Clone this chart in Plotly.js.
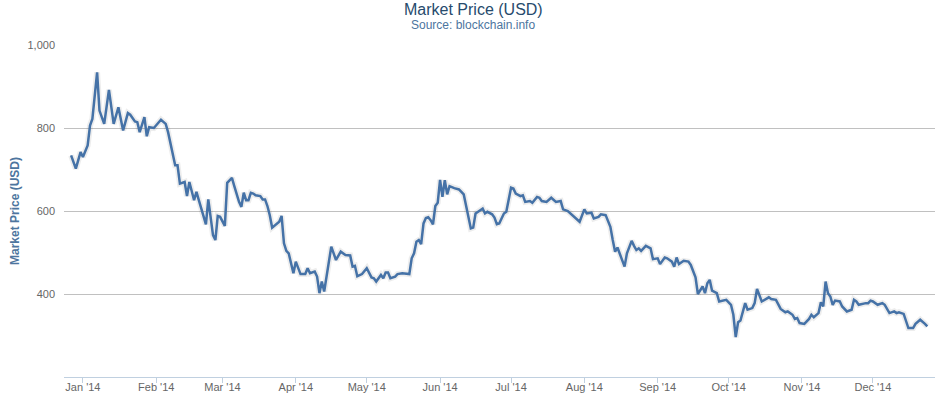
<!DOCTYPE html>
<html>
<head>
<meta charset="utf-8">
<script src="https://cdn.plot.ly/plotly-3.0.1.min.js"></script>
<style>html,body{margin:0;padding:0;background:#fff;}#chart{width:945px;height:398px;}</style>
</head>
<body>
<div id="chart"></div>
<script>
const dates = [
'2013-12-27','2013-12-29','2013-12-31','2014-01-01','2014-01-03','2014-01-04','2014-01-05','2014-01-07','2014-01-08','2014-01-10',
'2014-01-12','2014-01-14','2014-01-16','2014-01-18','2014-01-20','2014-01-21','2014-01-23','2014-01-24','2014-01-25','2014-01-27',
'2014-01-28','2014-01-29','2014-01-31','2014-02-03','2014-02-05','2014-02-06','2014-02-09','2014-02-10','2014-02-11','2014-02-13',
'2014-02-14','2014-02-15','2014-02-17','2014-02-18','2014-02-19','2014-02-21','2014-02-22','2014-02-23','2014-02-25','2014-02-26',
'2014-02-27','2014-02-28','2014-03-02','2014-03-03','2014-03-05','2014-03-06','2014-03-08','2014-03-09','2014-03-10','2014-03-11',
'2014-03-12','2014-03-13','2014-03-14','2014-03-15','2014-03-17','2014-03-18','2014-03-19','2014-03-20','2014-03-21','2014-03-22',
'2014-03-25','2014-03-26','2014-03-27','2014-03-28','2014-03-29','2014-03-31','2014-04-01','2014-04-03','2014-04-05','2014-04-06',
'2014-04-07','2014-04-09','2014-04-10','2014-04-11','2014-04-12','2014-04-13','2014-04-15','2014-04-16','2014-04-18','2014-04-20',
'2014-04-22','2014-04-24','2014-04-25','2014-04-26','2014-04-27','2014-04-29','2014-05-01','2014-05-03','2014-05-04','2014-05-05',
'2014-05-07','2014-05-08','2014-05-09','2014-05-10','2014-05-11','2014-05-13','2014-05-14','2014-05-16','2014-05-19','2014-05-20',
'2014-05-21','2014-05-22','2014-05-23','2014-05-24','2014-05-25','2014-05-26','2014-05-27','2014-05-28','2014-05-29','2014-05-30',
'2014-05-31','2014-06-01','2014-06-02','2014-06-03','2014-06-04','2014-06-05','2014-06-07','2014-06-09','2014-06-11','2014-06-12',
'2014-06-13','2014-06-14','2014-06-15','2014-06-16','2014-06-18','2014-06-19','2014-06-20','2014-06-21','2014-06-23','2014-06-24',
'2014-06-25','2014-06-26','2014-06-28','2014-06-29','2014-07-01','2014-07-02','2014-07-03','2014-07-05','2014-07-06','2014-07-07',
'2014-07-09','2014-07-10','2014-07-12','2014-07-13','2014-07-14','2014-07-16','2014-07-18','2014-07-20','2014-07-22','2014-07-23',
'2014-07-25','2014-07-27','2014-07-30','2014-08-01','2014-08-02','2014-08-04','2014-08-05','2014-08-07','2014-08-08','2014-08-10',
'2014-08-11','2014-08-12','2014-08-13','2014-08-14','2014-08-15','2014-08-18','2014-08-19','2014-08-21','2014-08-22','2014-08-23',
'2014-08-24','2014-08-25','2014-08-27','2014-08-29','2014-08-30','2014-09-01','2014-09-02','2014-09-04','2014-09-05','2014-09-07',
'2014-09-08','2014-09-09','2014-09-10','2014-09-12','2014-09-14','2014-09-15','2014-09-17','2014-09-18','2014-09-20','2014-09-21',
'2014-09-22','2014-09-23','2014-09-24','2014-09-26','2014-09-27','2014-09-30','2014-10-02','2014-10-03','2014-10-04','2014-10-05',
'2014-10-06','2014-10-08','2014-10-09','2014-10-11','2014-10-12','2014-10-13','2014-10-15','2014-10-16','2014-10-18','2014-10-19',
'2014-10-21','2014-10-23','2014-10-25','2014-10-26','2014-10-28','2014-10-29','2014-10-30','2014-10-31','2014-11-02','2014-11-04',
'2014-11-05','2014-11-06','2014-11-08','2014-11-09','2014-11-10','2014-11-11','2014-11-12','2014-11-13','2014-11-14','2014-11-15',
'2014-11-17','2014-11-18','2014-11-20','2014-11-22','2014-11-23','2014-11-24','2014-11-25','2014-11-28','2014-11-29','2014-11-30',
'2014-12-01','2014-12-03','2014-12-05','2014-12-06','2014-12-08','2014-12-10','2014-12-11','2014-12-12','2014-12-14','2014-12-16',
'2014-12-18','2014-12-19','2014-12-21','2014-12-23','2014-12-24'
];
const prices = [
734,702,742,730,758,806,822,934,842,810,
892,810,850,794,836,832,816,814,790,826,
780,802,800,820,810,790,710,710,666,670,
636,670,626,646,626,586,568,628,542,530,
588,586,564,668,680,660,622,610,644,626,
626,644,642,638,636,628,628,612,590,560,
574,588,522,504,498,450,478,448,448,462,
450,454,442,402,430,406,482,514,482,502,
494,493,466,468,443,448,462,440,438,430,
446,438,452,452,438,442,448,450,448,486,
498,526,530,520,570,583,585,578,568,612,
620,675,634,674,640,660,655,652,640,610,
582,558,560,594,602,606,594,598,592,584,
568,570,594,598,656,654,642,636,638,622,
624,620,634,632,624,622,632,622,624,604,
600,590,574,604,594,596,582,586,592,590,
578,562,530,502,512,466,498,528,516,506,
510,504,516,510,484,486,472,488,486,478,
466,488,472,480,478,470,440,400,418,402,
426,434,408,402,382,386,374,350,296,332,
336,378,362,366,378,412,382,386,392,388,
386,364,356,358,350,340,342,330,328,340,
350,344,354,380,370,430,402,394,374,384,
382,370,358,362,386,382,374,378,378,384,
382,374,378,374,354,358,354,356,352,318,
318,328,338,328,322
];
const monthTicks = ['2014-01-01','2014-02-01','2014-03-01','2014-04-01','2014-05-01','2014-06-01','2014-07-01','2014-08-01','2014-09-01','2014-10-01','2014-11-01','2014-12-01'];
const monthLabels = ["Jan '14","Feb '14","Mar '14","Apr '14","May '14","Jun '14","Jul '14","Aug '14","Sep '14","Oct '14","Nov '14","Dec '14"];
const yTicks = [400,600,800,1000];
const yLabels = ['400','600','800','1,000'];
const titleText = 'Market Price (USD)';
const subtitleText = 'Source: blockchain.info';

const FONT = '"Liberation Sans", Arial, sans-serif';
const traces = [
  {x: dates, y: prices, type: 'scatter', mode: 'lines', hoverinfo: 'skip',
   line: {color: 'rgba(0,0,0,0.07)', width: 6}},
  {x: dates, y: prices, type: 'scatter', mode: 'lines', name: 'Market Price',
   line: {color: '#4572A7', width: 2.5}}
];
const layout = {
  width: 945, height: 398,
  margin: {l: 64, r: 10, t: 45, b: 21},
  paper_bgcolor: '#fff', plot_bgcolor: '#fff',
  showlegend: false,
  font: {family: FONT, color: '#666', size: 11},
  annotations: [
    {text: titleText, xref: 'paper', yref: 'paper', x: 0.47, y: 1.108, xanchor: 'center', yanchor: 'middle',
     showarrow: false, font: {family: FONT, size: 16, color: '#274b6d'}},
    {text: subtitleText, xref: 'paper', yref: 'paper', x: 0.47, y: 1.059, xanchor: 'center', yanchor: 'middle',
     showarrow: false, font: {family: FONT, size: 12, color: '#4d759e'}}
  ],
  xaxis: {
    type: 'date', range: ['2013-12-24', '2014-12-27 06:00'],
    tickmode: 'array', tickvals: monthTicks, ticktext: monthLabels,
    showgrid: false, zeroline: false,
    showline: true, linecolor: '#C0D0E0', linewidth: 1,
    ticks: 'outside', ticklen: 5, tickcolor: '#C0D0E0', tickwidth: 1,
    ticklabelstandoff: -5,
    tickfont: {family: FONT, size: 11, color: '#666'}
  },
  yaxis: {
    range: [200, 1000], tickmode: 'array', tickvals: yTicks, ticktext: yLabels,
    showgrid: true, gridcolor: '#C0C0C0', gridwidth: 1,
    zeroline: false, showline: false, ticks: '', ticklabelstandoff: 8,
    tickfont: {family: FONT, size: 11, color: '#666'},
    title: {text: '<b>Market Price (USD)</b>', font: {family: FONT, size: 12, color: '#4d759e'}, standoff: 5}
  }
};
Plotly.newPlot('chart', traces, layout, {displayModeBar: false, staticPlot: true});
</script>
</body>
</html>
